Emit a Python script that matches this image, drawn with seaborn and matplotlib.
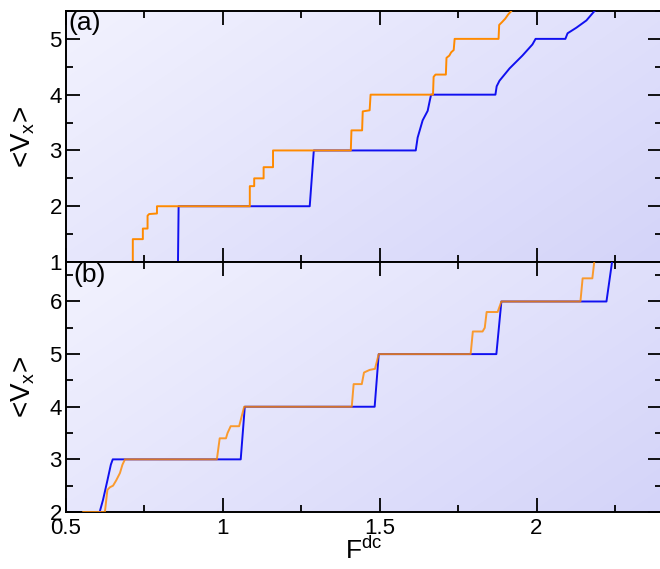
import numpy as np
import pandas as pd
import matplotlib
matplotlib.use("Agg")
import matplotlib.pyplot as plt
from matplotlib.ticker import MultipleLocator
import seaborn as sns

# ---------------- data ----------------
# panel (a)
a_orange_F = [0.60, 0.713, 0.713, 0.745, 0.745, 0.760, 0.760, 0.765, 0.790, 0.790,
              1.086, 1.086, 1.100, 1.100, 1.130, 1.130, 1.160, 1.160,
              1.408, 1.410, 1.444, 1.446, 1.468, 1.471,
              1.670, 1.672, 1.678, 1.711, 1.713, 1.722, 1.728, 1.736, 1.739,
              1.879, 1.881, 1.890, 1.900, 1.910, 1.920, 1.930]
a_orange_V = [1.00, 1.00, 1.41, 1.41, 1.60, 1.60, 1.83, 1.86, 1.87, 2.00,
              2.00, 2.36, 2.36, 2.50, 2.50, 2.70, 2.70, 3.00,
              3.00, 3.36, 3.36, 3.70, 3.72, 4.00,
              4.00, 4.32, 4.36, 4.36, 4.66, 4.70, 4.76, 4.80, 5.00,
              5.00, 5.25, 5.30, 5.36, 5.44, 5.50, 5.60]
a_blue_F = [0.60, 0.857, 0.859, 1.277, 1.290,
            1.615, 1.621, 1.637, 1.653, 1.660, 1.664,
            1.869, 1.873, 1.882, 1.914, 1.955, 1.987, 1.997,
            2.092, 2.099, 2.127, 2.159, 2.185, 2.200]
a_blue_V = [1.00, 1.00, 2.00, 2.00, 3.00,
            3.00, 3.23, 3.54, 3.71, 3.90, 4.00,
            4.00, 4.15, 4.25, 4.47, 4.70, 4.90, 5.00,
            5.00, 5.10, 5.20, 5.33, 5.50, 5.56]

# panel (b)
b_blue_F = [0.605, 0.618, 0.632, 0.643, 0.649, 1.057, 1.070, 1.484, 1.497,
            1.872, 1.888, 2.223, 2.242]
b_blue_V = [1.95, 2.23, 2.60, 2.90, 3.00, 3.00, 4.00, 4.00, 5.00,
            5.00, 6.00, 6.00, 6.80]
b_orange_F = [0.554, 0.624, 0.632, 0.640, 0.650, 0.660, 0.672, 0.680, 0.688,
              0.981, 0.990, 1.010, 1.015, 1.025, 1.052, 1.068,
              1.411, 1.417, 1.443, 1.450, 1.468, 1.485, 1.497,
              1.790, 1.797, 1.828, 1.835, 1.841, 1.876, 1.888,
              2.140, 2.147, 2.178, 2.185]
b_orange_V = [2.00, 2.00, 2.42, 2.47, 2.50, 2.60, 2.74, 2.90, 3.00,
              3.00, 3.40, 3.40, 3.50, 3.63, 3.63, 4.00,
              4.00, 4.43, 4.43, 4.65, 4.70, 4.72, 5.00,
              5.00, 5.43, 5.43, 5.50, 5.80, 5.80, 6.00,
              6.00, 6.44, 6.44, 6.80]

x_ticks = [0.5, 1, 1.5, 2]
x_tick_labels = ["0.5", "1", "1.5", "2"]
a_y_ticks = [1, 2, 3, 4, 5]
b_y_ticks = [2, 3, 4, 5, 6]
panel_labels = ["(a)", "(b)"]

# ---------------- style ----------------
sns.set_theme(style="ticks")
plt.rcParams["font.family"] = ["Liberation Sans", "DejaVu Sans"]
plt.rcParams["mathtext.fontset"] = "custom"
plt.rcParams["mathtext.rm"] = "Liberation Sans"
plt.rcParams["mathtext.it"] = "Liberation Sans:italic"
plt.rcParams["mathtext.sf"] = "Liberation Sans"
plt.rcParams["text.color"] = "black"
plt.rcParams["axes.labelcolor"] = "black"
plt.rcParams["xtick.color"] = "black"
plt.rcParams["ytick.color"] = "black"

BLUE = "#1010f0"
ORANGE = "#ff8a00"

fig = plt.figure(figsize=(6.6, 5.69), dpi=100)
axA = fig.add_axes([0.1, 0.5395, 0.903, 0.4412])
axB = fig.add_axes([0.1, 0.1002, 0.903, 0.4393])

# gradient background
nx, ny = 200, 100
u = np.linspace(0, 1, nx)[None, :]
v = np.linspace(0, 1, ny)[:, None]  # row 0 = top
t = 0.62 * u + 0.38 * v
c0 = np.array([242, 242, 254]) / 255.0
c1 = np.array([212, 212, 249]) / 255.0
grad = c0[None, None, :] * (1 - t[..., None]) + c1[None, None, :] * t[..., None]


def style_axis(ax, ylim, yticks, show_xlabels):
    ax.set_facecolor("none")
    ax.imshow(grad, extent=[0, 1, 0, 1], transform=ax.transAxes,
              aspect="auto", zorder=-5, interpolation="bilinear")
    ax.set_xlim(0.5, 2.4)
    ax.set_ylim(*ylim)
    ax.set_xticks(x_ticks)
    ax.set_xticklabels(x_tick_labels if show_xlabels else [])
    ax.set_yticks(yticks)
    ax.set_yticklabels([str(y) for y in yticks])
    ax.xaxis.set_minor_locator(MultipleLocator(0.25))
    ax.yaxis.set_minor_locator(MultipleLocator(0.5))
    ax.tick_params(which="both", direction="in", top=True, right=True,
                   width=1.3, colors="black", labelsize=16)
    ax.tick_params(which="major", length=10)
    ax.tick_params(which="minor", length=5)
    ax.tick_params(axis="y", pad=3)
    ax.tick_params(axis="x", pad=4)
    for s in ax.spines.values():
        s.set_linewidth(1.4)
        s.set_color("black")
        s.set_visible(True)
    ax.set_ylabel(r"<V$_{\rm x}$>", fontsize=20, color="black")
    ax.yaxis.set_label_coords(-0.048, 0.5)
    ax.grid(False)


dfA_o = pd.DataFrame({"F": a_orange_F, "V": a_orange_V})
dfA_b = pd.DataFrame({"F": a_blue_F, "V": a_blue_V})
dfB_o = pd.DataFrame({"F": b_orange_F, "V": b_orange_V})
dfB_b = pd.DataFrame({"F": b_blue_F, "V": b_blue_V})

sns.lineplot(data=dfA_b, x="F", y="V", ax=axA, color=BLUE, lw=1.4,
             sort=False, estimator=None, zorder=3)
sns.lineplot(data=dfA_o, x="F", y="V", ax=axA, color=ORANGE, lw=1.4,
             sort=False, estimator=None, zorder=4)
sns.lineplot(data=dfB_b, x="F", y="V", ax=axB, color=BLUE, lw=1.4,
             sort=False, estimator=None, zorder=3)
sns.lineplot(data=dfB_o, x="F", y="V", ax=axB, color=ORANGE, lw=1.4,
             sort=False, estimator=None, zorder=4, alpha=0.82)

style_axis(axA, (1, 5.5), a_y_ticks, False)
style_axis(axB, (2, 6.75), b_y_ticks, True)
axA.set_xlabel("")
axB.set_xlabel(r"F$^{\rm dc}$", fontsize=19, color="black")
axB.xaxis.set_label_coords(0.5, -0.1)

axA.text(0.004, 1.0, panel_labels[0], transform=axA.transAxes,
         fontsize=19, ha="left", va="top", color="black")
axB.text(0.013, 0.998, panel_labels[1], transform=axB.transAxes,
         fontsize=19, ha="left", va="top", color="black")

fig.savefig("out.png", dpi=100)
